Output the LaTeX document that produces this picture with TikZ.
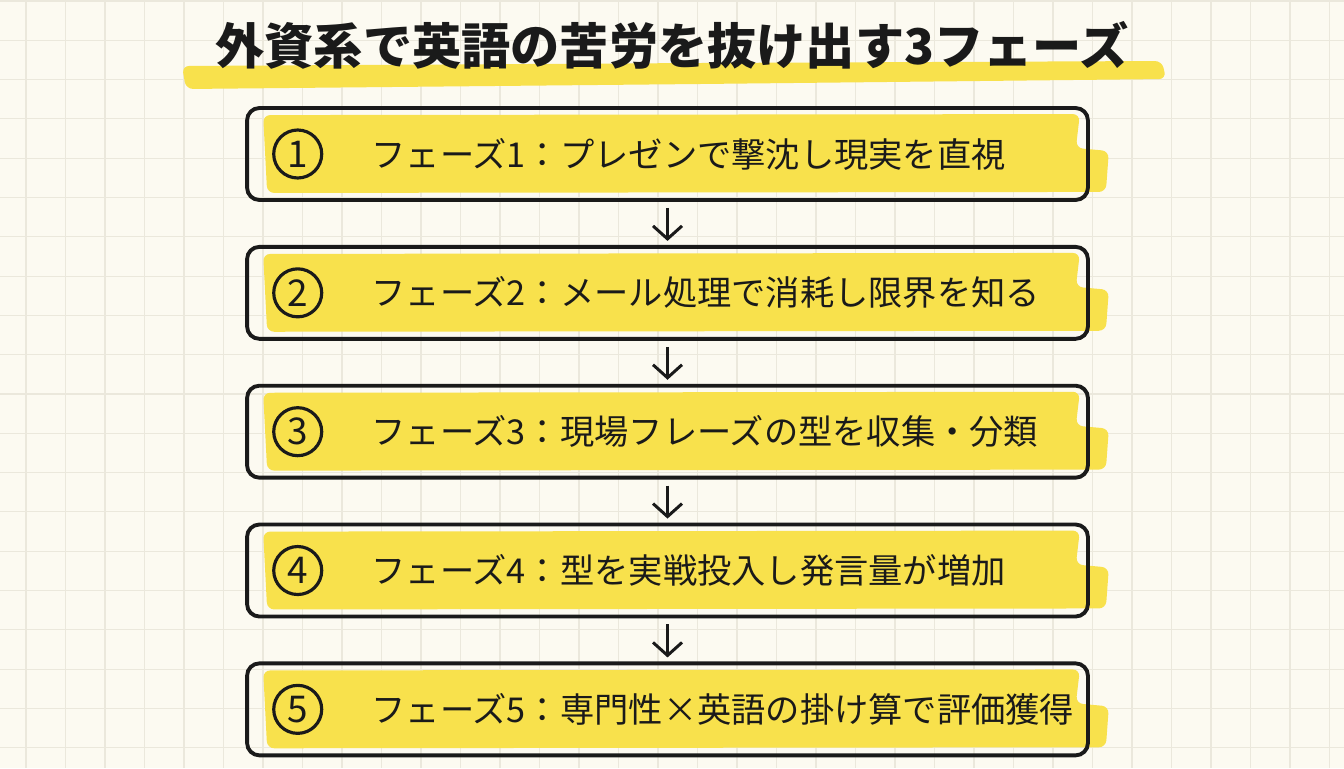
\documentclass[tikz,border=0pt]{standalone}
\usepackage{fontspec}
\setmainfont{Noto Sans CJK JP}
\usetikzlibrary{arrows.meta, positioning, backgrounds, calc}
\definecolor{notepaper}{HTML}{FCFAF1}
\definecolor{notegrid}{HTML}{EBE8DC}
\definecolor{markyellow}{HTML}{F8E14C}
\definecolor{inkblack}{HTML}{1A1A1A}
\tikzset{
  phasebox/.style={rectangle, rounded corners=7pt, minimum width=16.82cm, minimum height=1.84cm,
    draw=inkblack, line width=2.2pt, inner sep=0pt},
  num/.style={circle, draw=inkblack, line width=1.8pt, minimum size=0.96cm, inner sep=0pt,
    font=\fontsize{21}{21}\selectfont, text=inkblack},
  phasetext/.style={inner sep=0pt, font=\fontsize{19.5}{19.5}\selectfont, text=inkblack},
  headline/.style={font=\bfseries\fontsize{28}{28}\selectfont, text=inkblack},
  gridline/.style={notegrid, line width=0.6pt},
  flow/.style={-{Straight Barb[length=2.6mm, width=5.8mm]}, line width=1.7pt, inkblack,
    shorten <=0.12cm, shorten >=0.08cm},
}

\begin{document}
\begin{tikzpicture}[x=0.02cm, y=-0.02cm]
  \useasboundingbox (0,0) rectangle (1344,768);
  \node[headline] (title) at (672,45) {外資系で英語の苦労を抜け出す3フェーズ};
  \node[phasebox] (p1) at (667.5,154) {};
  \node[phasebox, below=0.86cm of p1] (p2) {};
  \node[phasebox, below=0.86cm of p2] (p3) {};
  \node[phasebox, below=0.86cm of p3] (p4) {};
  \node[phasebox, below=0.86cm of p4] (p5) {};
  \node[num, right=0.54cm of p1.west] (n1) {1};
  \node[num, right=0.54cm of p2.west] (n2) {2};
  \node[num, right=0.54cm of p3.west] (n3) {3};
  \node[num, right=0.54cm of p4.west] (n4) {4};
  \node[num, right=0.54cm of p5.west] (n5) {5};
  \node[phasetext, right=0.96cm of n1] (t1) {フェーズ1：プレゼンで撃沈し現実を直視};
  \node[phasetext, right=0.96cm of n2] (t2) {フェーズ2：メール処理で消耗し限界を知る};
  \node[phasetext, right=0.96cm of n3] (t3) {フェーズ3：現場フレーズの型を収集・分類};
  \node[phasetext, right=0.96cm of n4] (t4) {フェーズ4：型を実戦投入し発言量が増加};
  \node[phasetext, right=0.96cm of n5] (t5) {フェーズ5：専門性×英語の掛け算で評価獲得};
  \draw[flow] (p1) -- (p2);
  \draw[flow] (p2) -- (p3);
  \draw[flow] (p3) -- (p4);
  \draw[flow] (p4) -- (p5);
  % paper, grid and marker strokes
  \begin{scope}[on background layer]
    \fill[notepaper] (0,0) rectangle (1344,768);
    \foreach \gx in {26,65.5,...,1344} \draw[gridline] (\gx,0) -- (\gx,768);
    \foreach \gy in {1,40.3,...,768} \draw[gridline] (0,\gy) -- (1344,\gy);
    \fill[markyellow, rounded corners=4pt] (182,66) -- (700,63) -- (1162,61) -- (1166,79)
      -- (700,84) -- (186,89) -- cycle;
    \foreach \b in {p1,p2,p3,p4,p5}
      \fill[markyellow, rounded corners=4pt]
        ($(\b.north west)+(18,9)$) -- ($(\b.north east)+(-10,8)$) -- ($(\b.east)+(-14,-6)$)
        -- ($(\b.east)+(19,-3)$) -- ($(\b.south east)+(16,-10)$) -- ($(\b.south west)+(22,-9)$)
        -- cycle;
  \end{scope}
\end{tikzpicture}
\end{document}
